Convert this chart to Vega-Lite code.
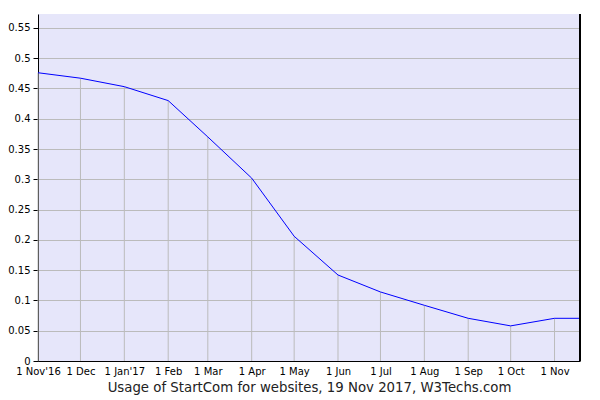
{
  "$schema": "https://vega.github.io/schema/vega-lite/v6.json",
  "width": 542,
  "height": 347,
  "autosize": "none",
  "padding": {"left": 38, "top": 14, "right": 20, "bottom": 39},
  "background": "white",
  "config": {
    "view": {"fill": "#e6e6fa", "stroke": null},
    "font": "DejaVu Sans",
    "axisY": {
      "values": [0, 0.05, 0.1, 0.15, 0.2, 0.25, 0.3, 0.35, 0.4, 0.45, 0.5, 0.55],
      "format": ".2~f",
      "title": null,
      "grid": true,
      "gridColor": "#bbbbbb",
      "gridOpacity": 1,
      "gridWidth": 1,
      "tickColor": "#000000",
      "tickSize": 5,
      "labelPadding": 3,
      "labelFontSize": 10,
      "labelColor": "#000000",
      "domainColor": "#000000",
      "domainWidth": 1,
      "labelOverlap": false,
      "labelFlush": false,
      "labelBound": false
    }
  },
  "data": {
    "values": [
      {"date": "2016-11-01", "value": 0.476},
      {"date": "2016-12-01", "value": 0.467},
      {"date": "2017-01-01", "value": 0.453},
      {"date": "2017-02-01", "value": 0.430},
      {"date": "2017-03-01", "value": 0.370},
      {"date": "2017-04-01", "value": 0.302},
      {"date": "2017-05-01", "value": 0.206},
      {"date": "2017-06-01", "value": 0.142},
      {"date": "2017-07-01", "value": 0.114},
      {"date": "2017-08-01", "value": 0.092},
      {"date": "2017-09-01", "value": 0.0705},
      {"date": "2017-10-01", "value": 0.058},
      {"date": "2017-11-01", "value": 0.0705},
      {"date": "2017-11-19", "value": 0.0705}
    ]
  },
  "layer": [
    {
      "transform": [{"filter": "utcdate(datum.date) == 1"}],
      "mark": {"type": "rule", "color": "#bbbbbb", "strokeWidth": 1},
      "encoding": {
        "x": {"field": "date", "type": "temporal"},
        "y": {
          "field": "value",
          "type": "quantitative",
          "scale": {"domain": [0, 0.573], "nice": false, "zero": true},
          "axis": {"values": [0, 0.05, 0.1, 0.15, 0.2, 0.25, 0.3, 0.35, 0.4, 0.45, 0.5, 0.55], "tickCount": 12}
        },
        "y2": {"datum": 0}
      }
    },
    {
      "mark": {"type": "line", "color": "#0000ff", "strokeWidth": 1},
      "encoding": {
        "x": {
          "field": "date",
          "type": "temporal",
          "scale": {
            "type": "utc",
            "domain": [
              {"year": 2016, "month": 11, "date": 1, "utc": true},
              {"year": 2017, "month": 11, "date": 19, "utc": true}
            ],
            "nice": false
          },
          "axis": {
            "values": [
              {"year": 2016, "month": 11, "date": 1, "utc": true},
              {"year": 2016, "month": 12, "date": 1, "utc": true},
              {"year": 2017, "month": 1, "date": 1, "utc": true},
              {"year": 2017, "month": 2, "date": 1, "utc": true},
              {"year": 2017, "month": 3, "date": 1, "utc": true},
              {"year": 2017, "month": 4, "date": 1, "utc": true},
              {"year": 2017, "month": 5, "date": 1, "utc": true},
              {"year": 2017, "month": 6, "date": 1, "utc": true},
              {"year": 2017, "month": 7, "date": 1, "utc": true},
              {"year": 2017, "month": 8, "date": 1, "utc": true},
              {"year": 2017, "month": 9, "date": 1, "utc": true},
              {"year": 2017, "month": 10, "date": 1, "utc": true},
              {"year": 2017, "month": 11, "date": 1, "utc": true}
            ],
            "labelExpr": "'1 ' + utcFormat(datum.value, '%b') + ((utcmonth(datum.value) == 0 || (utcmonth(datum.value) == 10 && utcyear(datum.value) == 2016)) ? \"'\" + utcFormat(datum.value, '%y') : '')",
            "grid": false,
            "ticks": false,
            "tickSize": 0,
            "labelPadding": 5,
            "labelFontSize": 10,
            "labelColor": "#000000",
            "labelOverlap": false,
            "labelFlush": false,
            "labelBound": false,
            "domainColor": "#000000",
            "domainWidth": 1,
            "title": "Usage of StartCom for websites, 19 Nov 2017, W3Techs.com",
            "titleFontSize": 13.3,
            "titleFontWeight": "normal",
            "titleColor": "#222222",
            "titlePadding": 4
          }
        },
        "y": {
          "field": "value",
          "type": "quantitative",
          "axis": {"values": [0, 0.05, 0.1, 0.15, 0.2, 0.25, 0.3, 0.35, 0.4, 0.45, 0.5, 0.55], "tickCount": 12}
        }
      }
    },
    {
      "mark": {"type": "rule", "color": "#000000", "strokeWidth": 1},
      "encoding": {
        "x": {"datum": {"year": 2017, "month": 11, "date": 19, "utc": true}, "type": "temporal"}
      }
    }
  ]
}
